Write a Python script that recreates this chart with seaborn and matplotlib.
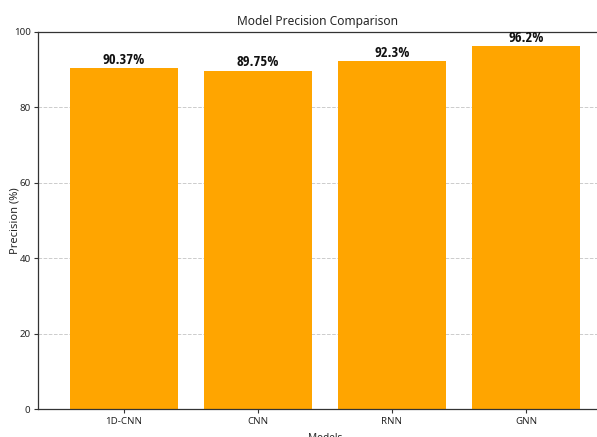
import matplotlib
matplotlib.use("Agg")
import matplotlib.pyplot as plt
import seaborn as sns
import pandas as pd

models = ["1D-CNN", "CNN", "RNN", "GNN"]
precision = [90.37, 89.75, 92.3, 96.2]
y_ticks = [0, 20, 40, 60, 80, 100]

sns.set_theme(style="white")
plt.rcParams["font.family"] = ["Noto Sans", "DejaVu Sans"]
plt.rcParams["font.stretch"] = "condensed"

df = pd.DataFrame({"Models": models, "Precision": precision})

fig = plt.figure(figsize=(5.97, 4.37), dpi=100)
ax = fig.add_axes([0.064, 0.064, 0.936, 0.8628])

sns.barplot(data=df, x="Models", y="Precision", hue="Models", palette=["#FFA500"] * 4,
            saturation=1, width=0.8, legend=False, ax=ax, edgecolor="none")

for i, v in enumerate(precision):
    ax.text(i, v + 0.4, f"{v}%", ha="center", va="bottom", fontsize=10.5,
            family=["Open Sans Condensed", "DejaVu Sans"], fontweight="bold",
            fontstretch="condensed", color="#111111")

ax.set_xlim(-0.64, 3.53)
ax.set_ylim(0, 100)
ax.set_yticks(y_ticks)
ax.set_title("Model Precision Comparison", fontsize=8.6, pad=5)
ax.set_xlabel("Models", fontsize=7.2)
ax.set_ylabel("Precision (%)", fontsize=8)
ax.yaxis.set_label_coords(-0.032, 0.5)
ax.xaxis.set_label_coords(0.514, -0.064)
ax.tick_params(axis="both", labelsize=7, length=3, width=0.8, color="#333333",
               left=True, bottom=True, pad=2.5)
ax.yaxis.grid(True, linestyle="--", color="#cccccc", linewidth=0.7)
ax.set_axisbelow(True)
for side in ["left", "bottom", "top"]:
    ax.spines[side].set_color("#333333")
    ax.spines[side].set_linewidth(0.9)
ax.spines["right"].set_visible(False)

fig.savefig("out.png", dpi=100)
